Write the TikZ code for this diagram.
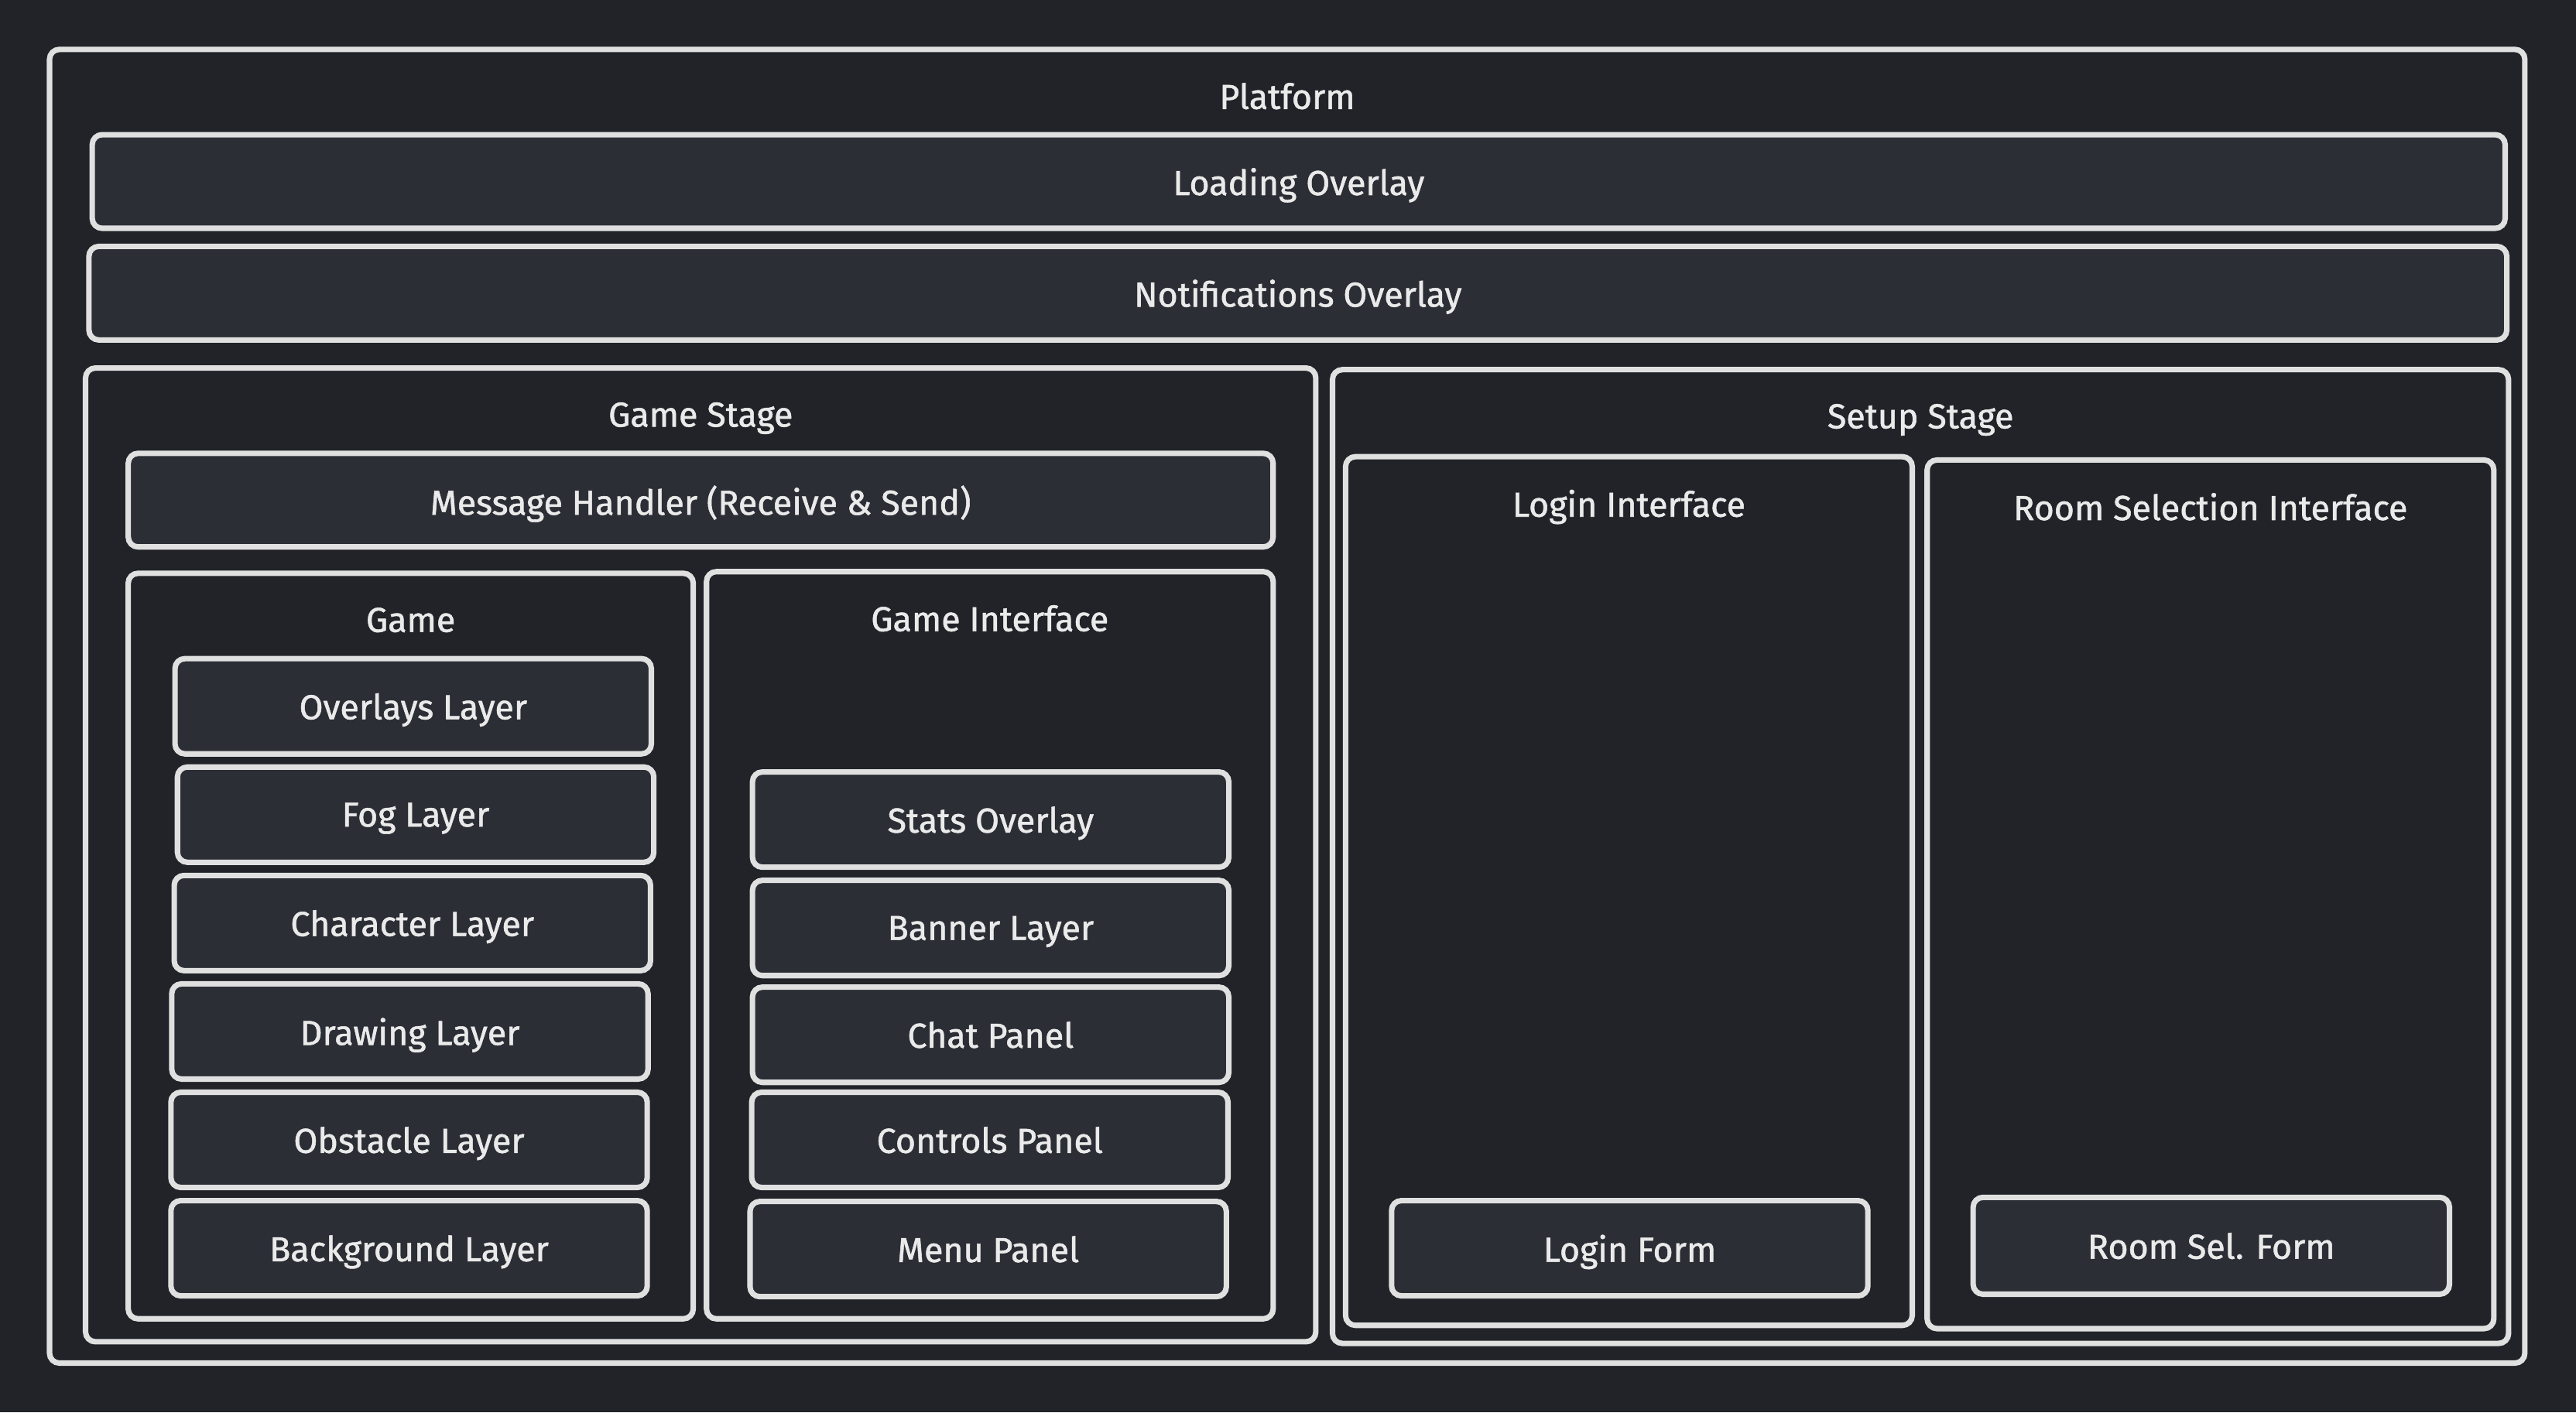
\documentclass[tikz,border=0pt]{standalone}
\usepackage{fontspec}
\setmainfont{Fira Sans}[FakeBold=1.2]
\usetikzlibrary{positioning}
\definecolor{bgdark}{HTML}{212328}
\definecolor{boxfill}{HTML}{2C2E36}
\definecolor{edgegray}{HTML}{E0E0E0}
\definecolor{textgray}{HTML}{EAEAEA}
\tikzset{
	frameA/.style={
		draw=edgegray, line width=1.9pt, rounded corners=0.12cm,
		fill=bgdark, inner sep=0pt
	},
	leafA/.style={
		frameA, fill=boxfill, text=textgray, text depth=0pt,
		font={\fontsize{12}{14}\selectfont}
	},
	titleA/.style={
		text=textgray, inner sep=0pt, text depth=0pt,
		font={\fontsize{12}{14}\selectfont}
	},
}
\begin{document}
\begin{tikzpicture}[x=0.02cm, y=-0.02cm]
% background
\fill[bgdark] (0,0) rectangle (1568,860);
\useasboundingbox (0,0) rectangle (1568,860);
% outer frames
\node [frameA, minimum width=30.14cm, minimum height=16cm] (platform) at (783.5,430) {};
\node [titleA, below=0.6cm of platform.north, anchor=center] (platformT) {Platform};
\node [leafA, minimum width=29.38cm, minimum height=1.14cm] (loading) at (790.5,110.5) {Loading Overlay};
\node [leafA, minimum width=29.44cm, minimum height=1.14cm] (notif) at (790,178.5) {Notifications Overlay};
% game stage
\node [frameA, minimum width=14.98cm, minimum height=11.86cm] (gstage) at (426.5,520.5) {};
\node [titleA, below=0.6cm of gstage.north, anchor=center] (gstageT) {Game Stage};
\node [leafA, minimum width=13.94cm, minimum height=1.14cm] (msg) at (426.5,304.5) {Message Handler (Receive \& Send)};
\node [frameA, minimum width=6.88cm, minimum height=9.08cm] (game) at (250,576) {};
\node [titleA, below=0.6cm of game.north, anchor=center] (gameT) {Game};
\node [frameA, minimum width=6.9cm, minimum height=9.1cm] (gameui) at (602.5,575.5) {};
\node [titleA, below=0.6cm of gameui.north, anchor=center] (gameuiT) {Game Interface};
\foreach \nm/\cx/\cy/\txt in {
	overlays/251.5/430/Overlays Layer,
	fog/253/496/Fog Layer,
	character/251/562/Character Layer,
	drawing/249.5/628/Drawing Layer,
	obstacle/249/694/Obstacle Layer,
	background/249/760/Background Layer,
	stats/603/499/Stats Overlay,
	banner/603/565/Banner Layer,
	chat/603/630/Chat Panel,
	controls/602.5/694/Controls Panel,
	menu/601.5/760.5/Menu Panel}
	\node [leafA, minimum width=5.8cm, minimum height=1.16cm] (\nm) at (\cx,\cy) {\txt};
% setup stage
\node [frameA, minimum width=14.32cm, minimum height=11.86cm] (sstage) at (1169,521.5) {};
\node [titleA, below=0.6cm of sstage.north, anchor=center] (sstageT) {Setup Stage};
\node [frameA, minimum width=6.9cm, minimum height=10.58cm] (login) at (991.5,542.5) {};
\node [titleA, below=0.6cm of login.north, anchor=center] (loginT) {Login Interface};
\node [frameA, minimum width=6.9cm, minimum height=10.58cm] (room) at (1345.5,544.5) {};
\node [titleA, below=0.6cm of room.north, anchor=center] (roomT) {Room Selection Interface};
\node [leafA, minimum width=5.8cm, minimum height=1.16cm] (loginform) at (992,760) {Login Form};
\node [leafA, minimum width=5.8cm, minimum height=1.18cm] (roomform) at (1346,758.5) {Room Sel. Form};
\end{tikzpicture}
\end{document}
